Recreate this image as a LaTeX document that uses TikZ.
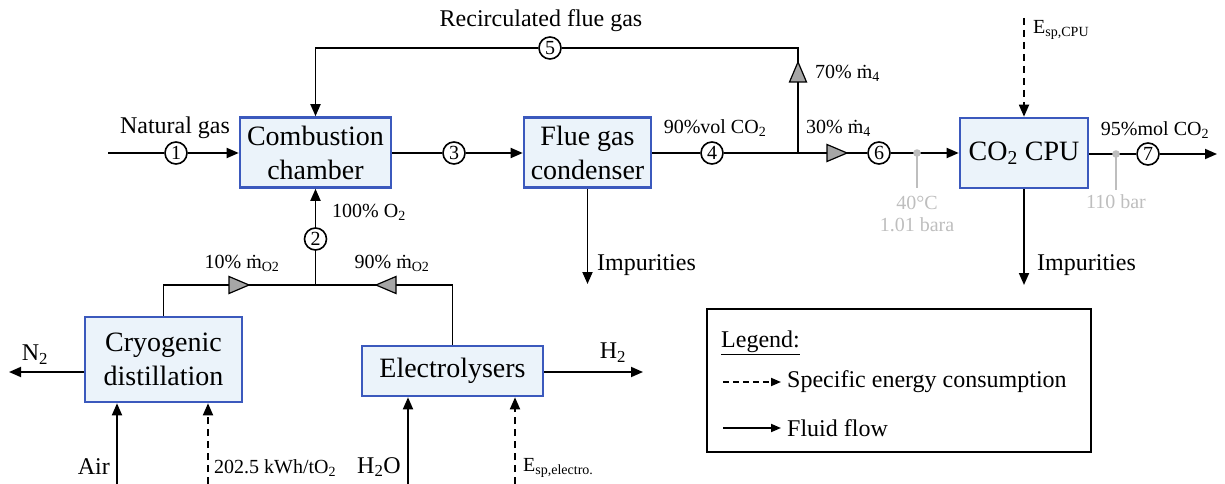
\documentclass[tikz,border=0pt]{standalone}
\usepackage{fontspec}
\setmainfont{Liberation Serif}
\usetikzlibrary{arrows.meta,calc}
\definecolor{boxfill}{RGB}{235,243,250}
\definecolor{boxline}{RGB}{59,89,189}
\definecolor{trigrey}{RGB}{166,166,166}
\definecolor{lightgrey}{RGB}{190,190,190}
\newcommand\fbig{\fontsize{28}{34}\selectfont}
\newcommand\fmid{\fontsize{24}{28}\selectfont}
\newcommand\fsml{\fontsize{20}{24}\selectfont}
\tikzset{
  unit/.style={draw=boxline,fill=boxfill,line width=2.6pt,font=\fbig,align=center,inner sep=0pt},
  line/.style={line width=1.8pt,draw=black},
  flow/.style={line,-{Triangle[length=12pt,width=10pt]}},
  energy/.style={flow,dash pattern=on 7pt off 5pt},
  num/.style={circle,draw,line width=1.6pt,fill=white,minimum size=22pt,inner sep=0pt,font=\fsml},
  lab/.style={font=\fmid,inner sep=1pt},
  slab/.style={font=\fsml,inner sep=1pt},
  glab/.style={font=\fsml,inner sep=1pt,text=lightgrey},
  flowtri/.pic={\filldraw[fill=trigrey,draw=black,line width=1.2pt] (-10,-8.5)--(10,0)--(-10,8.5)--cycle;}
}
\begin{document}
\begin{tikzpicture}[x=1pt,y=-1pt]
\useasboundingbox (0,0) rectangle (1225,484);
% units
\node[unit,minimum width=151pt,minimum height=70pt] (comb) at (315.5,152.5) {Combustion\\chamber};
\node[unit,minimum width=127pt,minimum height=70pt] (cond) at (587.5,152.5) {Flue gas\\condenser};
\node[unit,minimum width=128pt,minimum height=70pt] (cpu) at (1024,153) {CO\textsubscript{2} CPU};
\node[unit,minimum width=157pt,minimum height=85pt] (cryo) at (163.5,359.5) {Cryogenic\\distillation};
\node[unit,minimum width=181pt,minimum height=50pt] (elec) at (452.5,371) {Electrolysers};
% numbered points
\node[num] (c1) at (176,153) {1};
\node[num] (c2) at (315.5,239) {2};
\node[num] (c3) at (454,153) {3};
\node[num] (c4) at (712,153) {4};
\node[num] (c5) at (550,48) {5};
\node[num] (c6) at (879,153) {6};
\node[num] (c7) at (1148,154) {7};
% coordinates
\coordinate (ng) at (108,153);
\coordinate (j4) at (798,153);
\coordinate (r1) at (798,48);
\coordinate (r2) at (315.5,48);
\coordinate (j2) at (315.5,285);
\coordinate (cpuin) at (1024,18);
\coordinate (cpuout) at (1217,154);
\coordinate (imp1) at (587.5,284);
\coordinate (imp2) at (1024,285);
\coordinate (n2) at (9,372);
\coordinate (h2) at (643,372);
\coordinate (air) at (117,484);
\coordinate (airE) at (208,484);
\coordinate (h2o) at (408,484);
\coordinate (h2oE) at (515,484);
% connectors
\draw[line] (ng) -- (c1);
\draw[flow] (c1) -- (c1 -| comb.west);
\draw[line] (comb.east |- c3) -- (c3);
\draw[flow] (c3) -- (c3 -| cond.west);
\draw[line] (cond.east |- c4) -- (c4);
\draw[line] (c4) -- (j4);
\draw[line] (j4) -- (c6);
\draw[flow] (c6) -- (c6 -| cpu.west);
\draw[line] (j4) -- (r1) -- (c5);
\draw[flow] (c5) -- (r2) -- (comb.north);
\draw[line] (j2) -- (c2);
\draw[flow] (c2) -- (comb.south);
\draw[line] (cryo.north) |- (j2);
\draw[line] (elec.north) |- (j2);
\draw[flow] (cond.south) -- (imp1);
\draw[energy] (cpuin) -- (cpu.north);
\draw[flow] (cpu.south) -- (imp2);
\draw[line] (cpu.east |- c7) -- (c7);
\draw[flow] (c7) -- (cpuout);
\draw[flow] (cryo.west |- n2) -- (n2);
\draw[flow] (elec.east |- h2) -- (h2);
\draw[flow] (air) -- (air |- cryo.south);
\draw[energy] (airE) -- (airE |- cryo.south);
\draw[flow] (h2o) -- (h2o |- elec.south);
\draw[energy] (h2oE) -- (h2oE |- elec.south);
% flow split markers
\pic at (837,153) {flowtri};
\pic[rotate=90] at (798,72) {flowtri};
\pic at (239,285) {flowtri};
\pic[rotate=180] at (386,285) {flowtri};
% grey state markers
\draw[lightgrey,line width=1.6pt] (917,153) -- (917,188);
\fill[lightgrey] (917,153) circle (3.8pt);
\node[glab] (t40) at (917,203) {40°C};
\node[glab] (p101) at (917,225) {1.01 bara};
\draw[lightgrey,line width=1.6pt] (1116,154) -- (1116,190);
\fill[lightgrey] (1116,154) circle (3.8pt);
\node[glab] (p110) at (1116,202) {110 bar};
% labels
\node[lab] (lng) at (175,128) {Natural gas};
\node[slab,anchor=west] (lo2) at (331,212) {100\% O\textsubscript{2}};
\node[slab] (l10) at (242,263) {10\% ṁ\textsubscript{O2}};
\node[slab] (l90) at (392,263) {90\% ṁ\textsubscript{O2}};
\node[lab] (lrec) at (541,21) {Recirculated flue gas};
\node[slab,anchor=west] (l70) at (814,73) {70\% ṁ\textsubscript{4}};
\node[slab] (lvol) at (715,128) {90\%vol CO\textsubscript{2}};
\node[slab,anchor=west] (l30) at (805,128) {30\% ṁ\textsubscript{4}};
\node[lab,anchor=west] (li1) at (596,265) {Impurities};
\node[lab,anchor=west] (li2) at (1036,265) {Impurities};
\node[slab,anchor=west] (lesp) at (1032,30) {E\textsubscript{sp,CPU}};
\node[slab] (lmol) at (1155,130) {95\%mol CO\textsubscript{2}};
\node[lab] (ln2) at (35,355) {N\textsubscript{2}};
\node[lab] (lh2) at (613,353) {H\textsubscript{2}};
\node[lab,anchor=east] (lair) at (111,467) {Air};
\node[slab,anchor=west] (lkwh) at (213,468) {202.5 kWh/tO\textsubscript{2}};
\node[lab] (lh2o) at (379,467) {H\textsubscript{2}O};
\node[slab,anchor=west] (lesp2) at (522,468) {E\textsubscript{sp,electro.}};
% legend
\node[draw,line width=1.4pt,minimum width=384pt,minimum height=143pt,inner sep=0pt] (legend) at (899,380.5) {};
\node[lab,anchor=west] (lleg) at (720,343) {\underline{Legend:}};
\coordinate (la1) at (723,382);
\coordinate (la2) at (781,382);
\coordinate (lb1) at (723,428);
\coordinate (lb2) at (781,428);
\draw[line,dash pattern=on 6pt off 4pt,-{Triangle[length=10pt,width=8pt]}] (la1) -- (la2);
\draw[line,-{Triangle[length=10pt,width=8pt]}] (lb1) -- (lb2);
\node[lab,anchor=west] (lspec) at (786,382) {Specific energy consumption};
\node[lab,anchor=west] (lfluid) at (786,428) {Fluid flow};
\end{tikzpicture}
\end{document}
